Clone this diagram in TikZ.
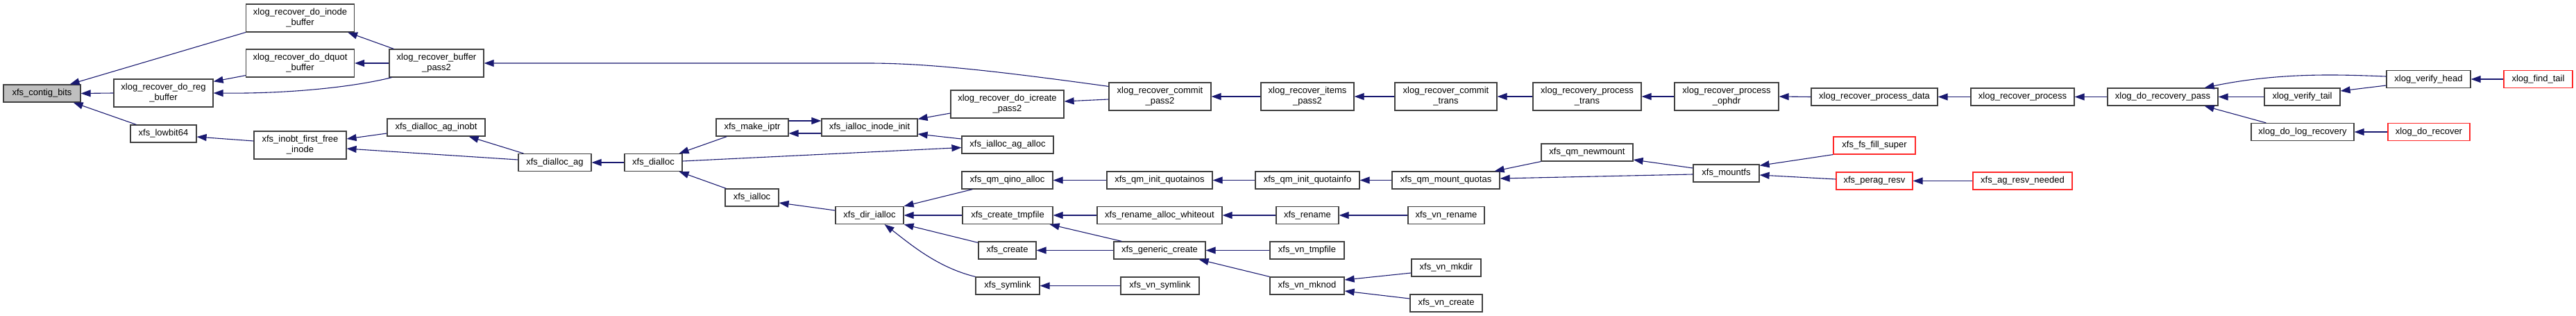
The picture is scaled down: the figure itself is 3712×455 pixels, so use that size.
\documentclass[tikz,border=0pt]{standalone}
\usepackage{fontspec}
\setmainfont{Liberation Sans}
\usetikzlibrary{arrows.meta}

\definecolor{callblue}{RGB}{25,25,112}
\definecolor{boxgray}{RGB}{64,64,64}
\definecolor{rootgray}{RGB}{191,191,191}
\definecolor{callred}{RGB}{255,40,40}

\tikzset{
	fn/.style={shape=rectangle, draw=boxgray, line width=0.6pt, inner sep=0pt, align=center, minimum height=12.5pt, font=\fontsize{6.5}{7.5}\selectfont},
	fntwo/.style={fn, minimum height=20pt},
	fnroot/.style={fn, fill=rootgray},
	fnred/.style={fn, draw=callred},
	wire/.style={draw=callblue, line width=0.55pt, <-},
}

\begin{document}
\begin{tikzpicture}[x=0.5pt, y=0.5pt, >={Triangle[length=7pt, width=5pt]}]
	\useasboundingbox (0,0) rectangle (3712,-455);
	% Nodes:
	\node[fnroot, minimum width=55.5pt] (contigbits) at (60.5,-134.5) {xfs\_contig\_bits};
	\node[fntwo, minimum width=78pt] (inodebuf) at (432.5,-26) {xlog\_recover\_do\_inode\\\_buffer};
	\node[fntwo, minimum width=78pt] (dquotbuf) at (432.5,-91) {xlog\_recover\_do\_dquot\\\_buffer};
	\node[fntwo, minimum width=71.5pt] (regbuf) at (235.5,-134) {xlog\_recover\_do\_reg\\\_buffer};
	\node[fn, minimum width=47.5pt] (lowbit) at (235.5,-192.5) {xfs\_lowbit64};
	\node[fntwo, minimum width=66.5pt] (firstfree) at (432.5,-209) {xfs\_inobt\_first\_free\\\_inode};
	\node[fntwo, minimum width=68pt] (bufpass) at (629,-91) {xlog\_recover\_buffer\\\_pass2};
	\node[fn, minimum width=70.5pt] (aginobt) at (628.5,-183.5) {xfs\_dialloc\_ag\_inobt};
	\node[fn, minimum width=52.5pt] (dialag) at (799.5,-234) {xfs\_dialloc\_ag};
	\node[fn, minimum width=41.5pt] (dialloc) at (941.5,-234) {xfs\_dialloc};
	\node[fn, minimum width=52pt] (makeiptr) at (1084,-183.5) {xfs\_make\_iptr};
	\node[fn, minimum width=69pt] (inodeinit) at (1253,-183.5) {xfs\_ialloc\_inode\_init};
	\node[fn, minimum width=38.5pt] (ialloc) at (1083.5,-284.5) {xfs\_ialloc};
	\node[fn, minimum width=49pt] (dirialloc) at (1253,-310) {xfs\_dir\_ialloc};
	\node[fntwo, minimum width=81.5pt] (icreate) at (1451.5,-150) {xlog\_recover\_do\_icreate\\\_pass2};
	\node[fn, minimum width=66pt] (agalloc) at (1452,-208.5) {xfs\_ialloc\_ag\_alloc};
	\node[fntwo, minimum width=73.5pt] (commitpass) at (1671.5,-139) {xlog\_recover\_commit\\\_pass2};
	\node[fn, minimum width=65.5pt] (qinoalloc) at (1451.5,-259.5) {xfs\_qm\_qino\_alloc};
	\node[fn, minimum width=76pt] (quotainos) at (1671,-259.5) {xfs\_qm\_init\_quotainos};
	\node[fn, minimum width=65pt] (tmpfile) at (1452,-310) {xfs\_create\_tmpfile};
	\node[fn, minimum width=90pt] (whiteout) at (1671,-310) {xfs\_rename\_alloc\_whiteout};
	\node[fn, minimum width=41.5pt] (create) at (1451.5,-360.5) {xfs\_create};
	\node[fn, minimum width=66pt] (generic) at (1671,-360.5) {xfs\_generic\_create};
	\node[fn, minimum width=46pt] (symlink) at (1452,-411.5) {xfs\_symlink};
	\node[fn, minimum width=56.5pt] (vnsymlink) at (1671.5,-411.5) {xfs\_vn\_symlink};
	\node[fntwo, minimum width=67pt] (itemspass) at (1884,-139) {xlog\_recover\_items\\\_pass2};
	\node[fntwo, minimum width=73.5pt] (committrans) at (2083.5,-139) {xlog\_recover\_commit\\\_trans};
	\node[fntwo, minimum width=78pt] (proctrans) at (2287,-139) {xlog\_recovery\_process\\\_trans};
	\node[fn, minimum width=75pt] (quotainfo) at (1884,-259.5) {xfs\_qm\_init\_quotainfo};
	\node[fn, minimum width=77.5pt] (mountquotas) at (2083.5,-259.5) {xfs\_qm\_mount\_quotas};
	\node[fn, minimum width=66pt] (newmount) at (2287,-219.5) {xfs\_qm\_newmount};
	\node[fn, minimum width=45pt] (rename) at (1884,-310) {xfs\_rename};
	\node[fn, minimum width=55pt] (vnrename) at (2084,-310) {xfs\_vn\_rename};
	\node[fn, minimum width=53.5pt] (vntmpfile) at (1883.5,-360.5) {xfs\_vn\_tmpfile};
	\node[fn, minimum width=53.5pt] (vnmknod) at (1883.5,-411.5) {xfs\_vn\_mknod};
	\node[fn, minimum width=50pt] (vnmkdir) at (2084,-385.5) {xfs\_vn\_mkdir};
	\node[fn, minimum width=52pt] (vncreate) at (2084,-436.5) {xfs\_vn\_create};
	\node[fntwo, minimum width=75pt] (ophdr) at (2488,-139) {xlog\_recover\_process\\\_ophdr};
	\node[fn, minimum width=91pt] (procdata) at (2701,-139.5) {xlog\_recover\_process\_data};
	\node[fn, minimum width=47.5pt] (mountfs) at (2487.5,-249.5) {xfs\_mountfs};
	\node[fnred, minimum width=59pt] (fillsuper) at (2701,-209.5) {xfs\_fs\_fill\_super};
	\node[fnred, minimum width=55pt] (peragresv) at (2701,-260.5) {xfs\_perag\_resv};
	\node[fn, minimum width=74.5pt] (recproc) at (2914.5,-139.5) {xlog\_recover\_process};
	\node[fnred, minimum width=71.5pt] (resvneeded) at (2914.5,-260.5) {xfs\_ag\_resv\_needed};
	\node[fn, minimum width=79.5pt] (recpass) at (3116.5,-139.5) {xlog\_do\_recovery\_pass};
	\node[fn, minimum width=60.5pt] (verifyhead) at (3499.5,-114) {xlog\_verify\_head};
	\node[fnred, minimum width=49.5pt] (findtail) at (3657.5,-114) {xlog\_find\_tail};
	\node[fn, minimum width=54.5pt] (verifytail) at (3317.5,-139.5) {xlog\_verify\_tail};
	\node[fn, minimum width=74pt] (logrecovery) at (3318,-190) {xlog\_do\_log\_recovery};
	\node[fnred, minimum width=59pt] (dorecover) at (3500,-190) {xlog\_do\_recover};
	% Wires:
	\draw[wire] ([xshift=-8pt]contigbits.north east) -- (inodebuf.south west);
	\draw[wire] (contigbits.east) -- (regbuf.west);
	\draw[wire] ([xshift=-5.5pt]contigbits.south east) -- ([xshift=4.5pt]lowbit.north west);
	\draw[wire] ([yshift=-2pt]regbuf.north east) -- ([yshift=1.5pt]dquotbuf.south west);
	\draw[wire] (regbuf.east) .. controls (420,-135) and (510,-125) .. ([xshift=2pt]bufpass.south west);
	\draw[wire] ([xshift=-5pt]inodebuf.south east) -- ([xshift=3.5pt]bufpass.north west);
	\draw[wire] (dquotbuf.east) -- (bufpass.west);
	\draw[wire] (bufpass.east) -- (1250,-91) .. controls (1330,-91) and (1420,-100) .. ([yshift=-3pt]commitpass.north west);
	\draw[wire] ([yshift=-2.25pt]lowbit.east) -- ([yshift=3pt]firstfree.west);
	\draw[wire] ([yshift=4.5pt]firstfree.east) -- ([yshift=-4.25pt]aginobt.west);
	\draw[wire] ([yshift=-2.5pt]firstfree.east) -- ([yshift=2pt]dialag.west);
	\draw[wire] ([xshift=-12pt]aginobt.south east) -- ([xshift=4pt]dialag.north west);
	\draw[wire] (dialag.east) -- (dialloc.west);
	\draw[wire] ([xshift=-2.5pt]dialloc.north east) -- ([xshift=8pt]makeiptr.south west);
	\draw[wire] ([xshift=-2.5pt]dialloc.south east) -- ([xshift=1pt]ialloc.north west);
	\draw[wire] ([yshift=-2pt]agalloc.west) -- ([yshift=1pt]dialloc.east);
	\draw[wire] ([yshift=4.75pt]inodeinit.west) -- ([yshift=4.75pt]makeiptr.east);
	\draw[wire] ([yshift=-4.25pt]makeiptr.east) -- ([yshift=-4.25pt]inodeinit.west);
	\draw[wire] ([yshift=-0.5pt]inodeinit.north east) -- ([yshift=-6.5pt]icreate.west);
	\draw[wire] ([yshift=-4.75pt]inodeinit.east) -- ([yshift=4.25pt]agalloc.west);
	\draw[wire] ([yshift=2pt]icreate.east) -- ([yshift=-2pt]commitpass.west);
	\draw[wire] (commitpass.east) -- (itemspass.west);
	\draw[wire] (itemspass.east) -- (committrans.west);
	\draw[wire] (committrans.east) -- (proctrans.west);
	\draw[wire] (proctrans.east) -- (ophdr.west);
	\draw[wire] (ophdr.east) -- (procdata.west);
	\draw[wire] (procdata.east) -- (recproc.west);
	\draw[wire] (recproc.east) -- (recpass.west);
	\draw[wire] ([xshift=-10pt]recpass.north east) .. controls (3290,-103) and (3380,-108) .. ([yshift=2pt]verifyhead.west);
	\draw[wire] (recpass.east) -- (verifytail.west);
	\draw[wire] ([xshift=-10pt]recpass.south east) -- ([xshift=11pt]logrecovery.north west);
	\draw[wire] ([yshift=4.25pt]verifytail.east) -- ([yshift=-4.5pt]verifyhead.west);
	\draw[wire] (verifyhead.east) -- (findtail.west);
	\draw[wire] (logrecovery.east) -- (dorecover.west);
	\draw[wire] ([yshift=-3.75pt]ialloc.east) -- ([yshift=3.5pt]dirialloc.west);
	\draw[wire] (dirialloc.north east) -- ([xshift=8pt]qinoalloc.south west);
	\draw[wire] (dirialloc.east) -- (tmpfile.west);
	\draw[wire] (dirialloc.south east) -- ([yshift=-1pt]create.north west);
	\draw[wire] ([xshift=-14pt]dirialloc.south east) .. controls (1310,-350) and (1350,-385) .. (symlink.north west);
	\draw[wire] (qinoalloc.east) -- (quotainos.west);
	\draw[wire] (quotainos.east) -- (quotainfo.west);
	\draw[wire] (quotainfo.east) -- (mountquotas.west);
	\draw[wire] ([xshift=-4pt]mountquotas.north east) -- (newmount.south west);
	\draw[wire] ([yshift=1.25pt]mountquotas.east) -- ([yshift=-0.75pt]mountfs.west);
	\draw[wire] ([yshift=-5.25pt]newmount.east) -- ([yshift=3.75pt]mountfs.west);
	\draw[wire] ([yshift=-1pt]mountfs.north east) -- (fillsuper.south west);
	\draw[wire] ([yshift=-1.25pt]mountfs.east) -- ([yshift=1.25pt]peragresv.west);
	\draw[wire] (peragresv.east) -- (resvneeded.west);
	\draw[wire] (tmpfile.east) -- (whiteout.west);
	\draw[wire] ([xshift=-2.5pt]tmpfile.south east) -- ([xshift=6pt]generic.north west);
	\draw[wire] (create.east) -- (generic.west);
	\draw[wire] (symlink.east) -- (vnsymlink.west);
	\draw[wire] (whiteout.east) -- (rename.west);
	\draw[wire] (rename.east) -- (vnrename.west);
	\draw[wire] (generic.east) -- (vntmpfile.west);
	\draw[wire] ([xshift=-5pt]generic.south east) -- (vnmknod.north west);
	\draw[wire] ([yshift=4.25pt]vnmknod.east) -- ([yshift=-3.75pt]vnmkdir.west);
	\draw[wire] ([yshift=-3.75pt]vnmknod.east) -- ([yshift=3.25pt]vncreate.west);
\end{tikzpicture}
\end{document}
